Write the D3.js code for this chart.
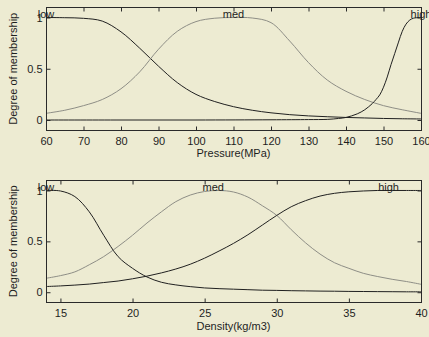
<!DOCTYPE html>
<html>
<head>
<meta charset="utf-8">
<script src="https://cdn.jsdelivr.net/npm/d3@7"></script>
<style>
  html, body { margin: 0; padding: 0; background: #EDEBD2; }
  svg { display: block; }
  text { font-family: "Liberation Sans", Arial, sans-serif; font-size: 11px; fill: #1e1e1e; }
</style>
</head>
<body>
<svg id="chart" width="429" height="337"></svg>
<script>
// Membership functions for pressure (MPa)
const pressureGrid = [60, 65, 70, 75, 80, 85, 90, 95, 100, 105, 110, 115, 120, 125, 130, 135, 140, 145, 150, 155, 160];
const pressureLow  = [1.0, 0.998, 0.992, 0.965, 0.86, 0.7, 0.525, 0.365, 0.25, 0.18, 0.13, 0.095, 0.07, 0.052, 0.04, 0.032, 0.025, 0.02, 0.015, 0.012, 0.01];
const pressureMed  = [0.065, 0.095, 0.14, 0.2, 0.305, 0.47, 0.69, 0.865, 0.96, 0.993, 1.0, 0.995, 0.95, 0.77, 0.56, 0.39, 0.28, 0.2, 0.14, 0.1, 0.065];
const pressureHighX = [60, 80, 100, 120, 130, 135, 138, 140, 143, 145, 147, 148, 149, 150, 151, 152, 153, 154, 155, 156, 157, 158, 160];
const pressureHigh  = [0.0, 0.0, 0.0, 0.002, 0.004, 0.006, 0.015, 0.025, 0.06, 0.1, 0.16, 0.2, 0.245, 0.32, 0.42, 0.54, 0.65, 0.76, 0.865, 0.935, 0.975, 0.993, 1.0];
const pressureTicks = [60, 70, 80, 90, 100, 110, 120, 130, 140, 150, 160];
const pressureTerms = ["low", "med", "high"];
const pressureTermCenters = [60, 110, 160];

// Membership functions for density (kg/m3)
const densityGrid = [14, 15, 16, 17, 18, 19, 20, 21, 22, 23, 24, 25, 26, 27, 28, 29, 30, 31, 32, 33, 34, 35, 36, 37, 38, 39, 40];
const densityLow  = [1.0, 0.995, 0.94, 0.79, 0.56, 0.35, 0.235, 0.15, 0.098, 0.072, 0.055, 0.042, 0.035, 0.03, 0.025, 0.02, 0.018, 0.015, 0.013, 0.011, 0.01, 0.008, 0.007, 0.006, 0.005, 0.004, 0.004];
const densityMed  = [0.137, 0.163, 0.2, 0.27, 0.35, 0.45, 0.56, 0.68, 0.79, 0.89, 0.955, 0.99, 1.0, 0.985, 0.935, 0.85, 0.755, 0.615, 0.485, 0.375, 0.29, 0.235, 0.186, 0.154, 0.127, 0.105, 0.078];
const densityHigh = [0.056, 0.062, 0.07, 0.08, 0.095, 0.11, 0.132, 0.158, 0.19, 0.228, 0.275, 0.335, 0.405, 0.48, 0.565, 0.66, 0.755, 0.84, 0.9, 0.945, 0.972, 0.987, 0.995, 1.0, 1.0, 1.0, 1.0];
const densityTicks = [15, 20, 25, 30, 35, 40];
const densityTerms = ["low", "med", "high"];
const densityTermCenters = [14, 25.6, 37.75];

const yTicks = [0, 0.5, 1];
const yTickLabels = ["0", "0.5", "1"];

const svg = d3.select("#chart");
const darkLine = "#202020";
const greyLine = "#8e8e86";

function panel(opts) {
  const left = 46, right = 421;
  const x = d3.scaleLinear().domain(opts.xDomain).range([left, right]);
  const y = d3.scaleLinear().domain([-0.1, 1.1]).range([opts.bottom, opts.top]);
  const g = svg.append("g");

  // curves
  const line = d3.line().x(d => x(d[0])).y(d => y(d[1])).curve(d3.curveCatmullRom.alpha(0.5));
  opts.series.forEach(s => {
    g.append("path")
      .datum(d3.zip(s.x, s.y))
      .attr("fill", "none")
      .attr("stroke", s.color)
      .attr("stroke-width", 1)
      .attr("d", line);
  });

  // frame
  g.append("rect")
    .attr("x", left + 0.5).attr("y", Math.round(opts.top) + 0.5)
    .attr("width", right - left).attr("height", Math.round(opts.bottom) - Math.round(opts.top))
    .attr("fill", "none").attr("stroke", "#2a2a2a").attr("stroke-width", 1);

  // axes with inward ticks
  const bottomAxis = d3.axisBottom(x).tickValues(opts.xTicks).tickSizeInner(-4).tickSizeOuter(0).tickPadding(6.5);
  const gb = g.append("g").attr("transform", `translate(0,${Math.round(opts.bottom) + 0.5})`).call(bottomAxis);
  const topAxis = d3.axisTop(x).tickValues(opts.xTicks).tickSizeInner(-4).tickSizeOuter(0).tickFormat("");
  const gt = g.append("g").attr("transform", `translate(0,${Math.round(opts.top) + 0.5})`).call(topAxis);
  const leftAxis = d3.axisLeft(y).tickValues(yTicks).tickSizeInner(-4).tickSizeOuter(0).tickPadding(4)
    .tickFormat((d, i) => yTickLabels[i]);
  const gl = g.append("g").attr("transform", `translate(${left + 0.5},0)`).call(leftAxis);
  const rightAxis = d3.axisRight(y).tickValues(yTicks).tickSizeInner(-4).tickSizeOuter(0).tickFormat("");
  const gr = g.append("g").attr("transform", `translate(${right + 0.5},0)`).call(rightAxis);
  [gb, gt, gl, gr].forEach(a => {
    a.select(".domain").remove();
    a.selectAll("line").attr("stroke", "#2a2a2a");
    a.selectAll("text").attr("fill", "#1e1e1e").style("font-size", "11px")
      .style("font-family", '"Liberation Sans", Arial, sans-serif');
  });

  // term names along the top
  opts.terms.forEach((t, i) => {
    g.append("text")
      .attr("x", x(opts.termCenters[i]))
      .attr("y", y(1) + 0.5)
      .attr("text-anchor", "middle")
      .text(t);
  });

  // axis titles
  g.append("text")
    .attr("x", (left + right) / 2)
    .attr("y", opts.xTitleY)
    .attr("text-anchor", "middle")
    .text(opts.xTitle);
  g.append("text")
    .attr("transform", `translate(17,${(opts.top + opts.bottom) / 2}) rotate(-90)`)
    .attr("text-anchor", "middle")
    .text("Degree of membership");
}

panel({
  xDomain: [60, 160], top: 7.25, bottom: 130.25,
  xTicks: pressureTicks,
  terms: pressureTerms, termCenters: pressureTermCenters,
  xTitle: "Pressure(MPa)", xTitleY: 157,
  series: [
    { x: pressureGrid, y: pressureLow, color: darkLine },
    { x: pressureGrid, y: pressureMed, color: greyLine },
    { x: pressureHighX, y: pressureHigh, color: darkLine }
  ]
});

panel({
  xDomain: [14, 40], top: 180.3, bottom: 302.4,
  xTicks: densityTicks,
  terms: densityTerms, termCenters: densityTermCenters,
  xTitle: "Density(kg/m3)", xTitleY: 330,
  series: [
    { x: densityGrid, y: densityLow, color: darkLine },
    { x: densityGrid, y: densityMed, color: greyLine },
    { x: densityGrid, y: densityHigh, color: darkLine }
  ]
});
</script>
</body>
</html>
